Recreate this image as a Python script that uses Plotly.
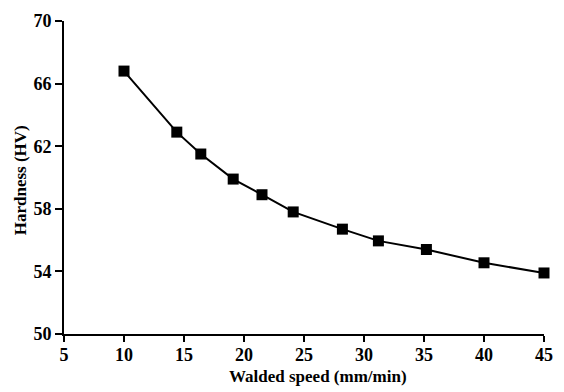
import plotly.graph_objects as go

speed = [10, 14.4, 16.4, 19.1, 21.5, 24.1, 28.2, 31.2, 35.2, 40, 45]
hardness = [66.8, 62.9, 61.5, 59.9, 58.9, 57.8, 56.7, 55.95, 55.4, 54.55, 53.9]
x_ticks = [5, 10, 15, 20, 25, 30, 35, 40, 45]
y_ticks = [50, 54, 58, 62, 66, 70]
x_title = "Walded speed (mm/min)"
y_title = "Hardness (HV)"

fig = go.Figure()
fig.add_trace(go.Scatter(
    x=speed, y=hardness, mode="lines+markers",
    line=dict(color="black", width=2),
    marker=dict(symbol="square", size=11, color="black"),
    cliponaxis=False, showlegend=False,
))

L, R, T, B = 64, 11, 18, 58
W, H = 564, 392
pw, ph = W - L - R, H - T - B
tickfont = dict(family="Liberation Serif", size=18, color="black", weight="bold")
titlefont = dict(family="Liberation Serif", size=17, color="black", weight="bold")

fig.update_layout(
    width=W, height=H,
    margin=dict(l=L, r=R, t=T, b=B),
    paper_bgcolor="white", plot_bgcolor="white",
    annotations=[
        dict(text=x_title, xref="paper", yref="paper",
             x=(323 - L) / pw, y=(H - B - 377) / ph,
             xanchor="center", yanchor="middle", showarrow=False, font=titlefont),
        dict(text=y_title, xref="paper", yref="paper", textangle=-90,
             x=(20 - L) / pw, y=(H - B - 179) / ph,
             xanchor="center", yanchor="middle", showarrow=False, font=titlefont),
    ],
)
fig.update_xaxes(
    range=[5, 45], tickvals=x_ticks, showgrid=False, zeroline=False,
    showline=True, linecolor="black", linewidth=2,
    ticks="outside", ticklen=6, tickwidth=2, tickcolor="black",
    tickfont=tickfont, ticklabelstandoff=-3,
)
fig.update_yaxes(
    range=[50, 70], tickvals=y_ticks, showgrid=False, zeroline=False,
    showline=True, linecolor="black", linewidth=2,
    ticks="outside", ticklen=7, tickwidth=2, tickcolor="black",
    tickfont=tickfont,
)
fig.write_html("out.html")
